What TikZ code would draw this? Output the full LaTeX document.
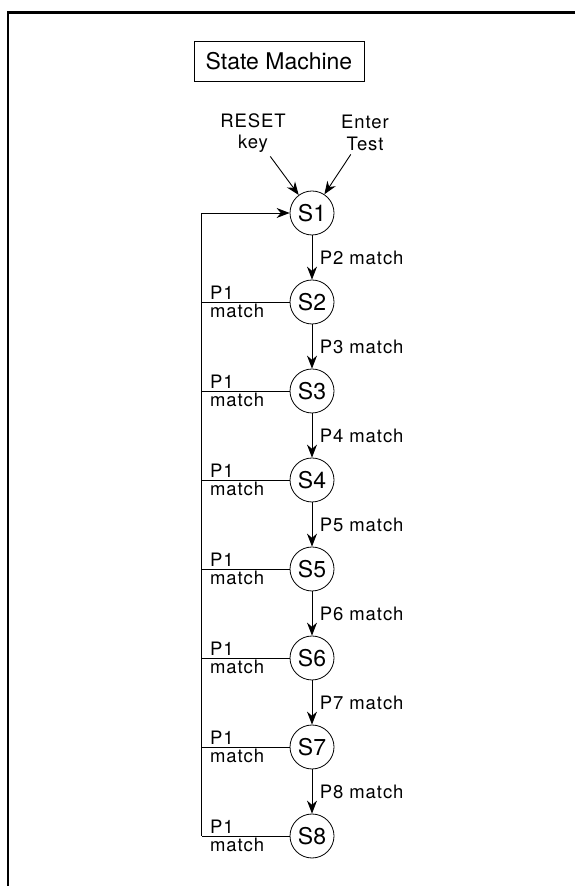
\documentclass[tikz,border=0pt]{standalone}
\usepackage{fontspec}
\setmainfont{TeX Gyre Heros}
\newfontfamily\lblfont[LetterSpace=5]{TeX Gyre Heros}
\usetikzlibrary{arrows.meta,positioning,automata}

\begin{document}
\begin{tikzpicture}[x=1pt,y=1pt,->,>={Stealth[length=13pt,width=10pt]},auto,
    node distance=89pt,line width=0.9pt]
  \tikzstyle{every state}=[minimum size=44pt,inner sep=0pt,line width=0.8pt,
    font=\fontsize{23}{25}\selectfont]
  \tikzstyle{lbl}=[font=\lblfont\fontsize{18.5}{21.5}\selectfont]
  \useasboundingbox (0,0) rectangle (575,886);
  \draw[-,line width=2.6pt] (7.8,0) -- (7.8,873.2) -- (575,873.2);

  \node[draw,minimum width=170pt,minimum height=40pt,
    font=\fontsize{23}{26}\selectfont] (title) at (279,825) {State Machine};
  \node[lbl,align=center] (reset) at (253,753) {RESET\\key};
  \node[lbl,align=center] (enter) at (365,753) {Enter\\Test};

  \node[state] (s1) at (312,673) {S1};
  \node[state] (s2) [below of=s1] {S2};
  \node[state] (s3) [below of=s2] {S3};
  \node[state] (s4) [below of=s3] {S4};
  \node[state] (s5) [below of=s4] {S5};
  \node[state] (s6) [below of=s5] {S6};
  \node[state] (s7) [below of=s6] {S7};
  \node[state] (s8) [below of=s7] {S8};

  \path (reset) edge              (s1)
        (enter) edge              (s1)
        (s1)    edge node[lbl,xshift=4pt] {P2 match} (s2)
        (s2)    edge node[lbl,xshift=4pt] {P3 match} (s3)
        (s3)    edge node[lbl,xshift=4pt] {P4 match} (s4)
        (s4)    edge node[lbl,xshift=4pt] {P5 match} (s5)
        (s5)    edge node[lbl,xshift=4pt] {P6 match} (s6)
        (s6)    edge node[lbl,xshift=4pt] {P7 match} (s7)
        (s7)    edge node[lbl,xshift=4pt] {P8 match} (s8);

  \foreach \i in {2,...,8}
    \draw[-] (s\i.west) -- +(-88,0)
      node[lbl,anchor=south west,inner sep=2pt,xshift=6pt] {P1}
      node[lbl,anchor=north west,inner sep=2pt,xshift=6pt] {match};
  \draw (s8.west) ++(-88,0) |- (s1.west);
\end{tikzpicture}
\end{document}
